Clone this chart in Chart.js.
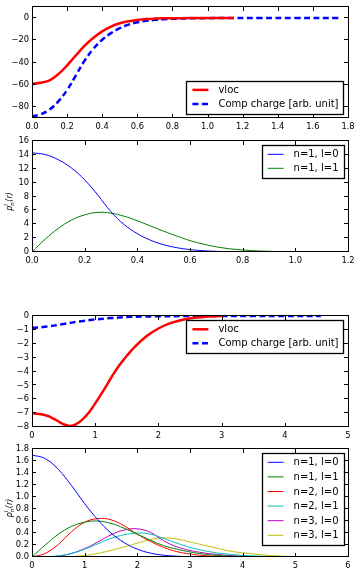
<!DOCTYPE html>
<html>
<head>
<meta charset="utf-8">
<script src="https://cdn.jsdelivr.net/npm/chart.js@4"></script>
<style>
  html, body { margin: 0; padding: 0; background: #fff; overflow: hidden; }
  body { width: 355px; height: 571px; position: relative; }
  canvas { position: absolute; left: 0; }
</style>
</head>
<body>
<canvas id="c1" width="355" height="132" style="top:0px"></canvas>
<canvas id="c2" width="355" height="133" style="top:133px"></canvas>
<canvas id="c3" width="355" height="136" style="top:305px"></canvas>
<canvas id="c4" width="355" height="129" style="top:442px"></canvas>
<script>
// panel 1: vloc and compensation charge (small r)
const r1Vloc = [0, 0.05, 0.1, 0.15, 0.2, 0.25, 0.3, 0.35, 0.4, 0.45, 0.5, 0.55, 0.6, 0.65, 0.7, 0.75, 0.8, 0.9, 1.0, 1.15];
const vloc1 = [-59.1, -58.3, -56.0, -50.5, -42.6, -33.6, -24.9, -17.7, -12.0, -7.7, -4.7, -2.8, -1.6, -0.85, -0.45, -0.22, -0.1, -0.02, 0, 0];
const r1Comp = [0, 0.05, 0.1, 0.15, 0.2, 0.25, 0.3, 0.35, 0.4, 0.45, 0.5, 0.55, 0.6, 0.65, 0.7, 0.8, 0.9, 1.0, 1.1, 1.3, 1.5, 1.75];
const comp1 = [-88.7, -86.6, -82.4, -75.0, -64.8, -51.5, -38.2, -27.6, -19.5, -13.5, -9.1, -5.9, -3.8, -2.5, -1.6, -0.65, -0.22, -0.06, 0, 0, 0, 0];
const x1Ticks = [0, 0.2, 0.4, 0.6, 0.8, 1.0, 1.2, 1.4, 1.6, 1.8];
const y1Ticks = [-80, -60, -40, -20, 0];

// panel 2: projectors
const r2 = [0, 0.05, 0.1, 0.15, 0.2, 0.25, 0.3, 0.35, 0.4, 0.45, 0.5, 0.55, 0.6, 0.65, 0.7, 0.75, 0.8, 0.85, 0.9, 0.95, 1.0, 1.1, 1.2];
const p2n1l0 = [14.3, 14.05, 13.3, 12.1, 10.4, 8.2, 5.8, 3.95, 2.65, 1.7, 1.05, 0.62, 0.35, 0.19, 0.1, 0.05, 0.025, 0.01, 0.005, 0.002, 0, 0, 0];
const p2n1l1 = [0, 1.85, 3.4, 4.6, 5.35, 5.72, 5.6, 5.15, 4.5, 3.75, 3.0, 2.3, 1.65, 1.15, 0.75, 0.47, 0.3, 0.17, 0.1, 0.05, 0.025, 0.005, 0];
const x2Ticks = [0, 0.2, 0.4, 0.6, 0.8, 1.0, 1.2];
const y2Ticks = [0, 2, 4, 6, 8, 10, 12, 14, 16];

// panel 3: vloc and compensation charge (larger r)
const r3Vloc = [0, 0.2, 0.3, 0.4, 0.5, 0.6, 0.7, 0.8, 0.9, 1.0, 1.1, 1.2, 1.3, 1.4, 1.5, 1.6, 1.8, 2.0, 2.2, 2.4, 2.6, 2.8, 3.0];
const vloc3 = [-7.0, -7.13, -7.3, -7.55, -7.8, -7.92, -7.8, -7.45, -6.95, -6.3, -5.6, -4.85, -4.1, -3.45, -2.87, -2.35, -1.5, -0.9, -0.5, -0.25, -0.11, -0.04, 0];
const r3Comp = [0, 0.25, 0.5, 0.75, 1.0, 1.25, 1.5, 1.75, 2.0, 2.5, 3.0, 3.5, 4.0, 4.57];
const comp3 = [-0.85, -0.76, -0.57, -0.39, -0.25, -0.15, -0.08, -0.04, -0.02, -0.005, 0, 0, 0, 0];
const x3Ticks = [0, 1, 2, 3, 4, 5];
const y3Ticks = [-8, -7, -6, -5, -4, -3, -2, -1, 0];

// panel 4: projectors
const r4 = [0, 0.25, 0.5, 0.75, 1, 1.25, 1.5, 1.75, 2, 2.25, 2.5, 2.75, 3, 3.25, 3.5, 3.75, 4, 4.5, 5, 5.5, 6];
const p4n1l0 = [1.70, 1.64, 1.46, 1.19, 0.89, 0.62, 0.40, 0.24, 0.13, 0.065, 0.03, 0.013, 0.005, 0.002, 0.001, 0, 0, 0, 0, 0, 0];
const p4n1l1 = [0, 0.20, 0.38, 0.51, 0.58, 0.60, 0.56, 0.48, 0.38, 0.28, 0.19, 0.13, 0.085, 0.05, 0.028, 0.015, 0.008, 0.002, 0, 0, 0];
const p4n2l0 = [0, 0.06, 0.21, 0.42, 0.58, 0.64, 0.62, 0.52, 0.38, 0.26, 0.16, 0.09, 0.05, 0.025, 0.012, 0.005, 0.002, 0, 0, 0, 0];
const p4n2l1 = [0, 0.002, 0.02, 0.06, 0.13, 0.22, 0.31, 0.37, 0.40, 0.38, 0.31, 0.23, 0.16, 0.11, 0.07, 0.045, 0.027, 0.009, 0.002, 0, 0];
const p4n3l0 = [0, 0.001, 0.015, 0.06, 0.14, 0.25, 0.37, 0.45, 0.47, 0.41, 0.27, 0.17, 0.11, 0.07, 0.043, 0.025, 0.013, 0.003, 0, 0, 0];
const p4n3l1 = [0, 0, 0.002, 0.008, 0.025, 0.06, 0.11, 0.17, 0.23, 0.29, 0.32, 0.30, 0.25, 0.20, 0.15, 0.10, 0.07, 0.027, 0.008, 0.002, 0];
const x4Ticks = [0, 1, 2, 3, 4, 5, 6];
const y4Ticks = [0, 0.2, 0.4, 0.6, 0.8, 1.0, 1.2, 1.4, 1.6, 1.8];

const FONT = 'DejaVu Sans';
Chart.defaults.font.family = FONT;
Chart.defaults.font.size = 8.3;
Chart.defaults.color = '#000';

const pts = (xs, ys) => xs.map((x, i) => ({ x: x, y: ys[i] }));
const fmt = (v, d) => v.toFixed(d).replace('-', '\u2212');

// matplotlib-like box, inward ticks, y label and legend
const axesBox = {
  id: 'axesBox',
  afterDatasetsDraw(chart) {
    const ctx = chart.ctx;
    const a = chart.chartArea;
    const xs = chart.scales.x, ys = chart.scales.y;
    const opt = chart.options.plugins.axesBox;
    ctx.save();
    ctx.strokeStyle = '#000';
    ctx.lineWidth = 1;
    ctx.beginPath();
    xs.ticks.forEach(t => {
      const px = Math.round(xs.getPixelForValue(t.value)) + 0.5;
      ctx.moveTo(px, a.bottom); ctx.lineTo(px, a.bottom - 4);
      ctx.moveTo(px, a.top); ctx.lineTo(px, a.top + 4);
    });
    ys.ticks.forEach(t => {
      const py = Math.round(ys.getPixelForValue(t.value)) - 0.5;
      ctx.moveTo(a.left, py); ctx.lineTo(a.left + 4, py);
      ctx.moveTo(a.right, py); ctx.lineTo(a.right - 4, py);
    });
    ctx.stroke();
    ctx.strokeRect(a.left + 0.5, a.top - 0.5, a.right - a.left, a.bottom - a.top);

    // y label p_n^l(r)
    if (opt.yLabel) {
      const [base, sub, sup, tail] = opt.yLabel;
      ctx.save();
      ctx.translate(9, (a.top + a.bottom) / 2 + 5);
      ctx.rotate(-Math.PI / 2);
      ctx.fillStyle = '#000';
      ctx.textBaseline = 'alphabetic';
      ctx.textAlign = 'left';
      const big = 'italic 8px ' + FONT, small = 'italic 5.5px ' + FONT;
      ctx.font = big;
      const wb = ctx.measureText(base).width, wt = ctx.measureText(tail).width;
      ctx.font = small;
      const ws = Math.max(ctx.measureText(sub).width, ctx.measureText(sup).width);
      let x = -(wb + ws + 0.5 + wt) / 2;
      ctx.font = big; ctx.fillText(base, x, 2.5); x += wb;
      ctx.font = small; ctx.fillText(sub, x, 4.5); ctx.fillText(sup, x, -1.5); x += ws + 0.5;
      ctx.font = big; ctx.fillText(tail, x, 2.5);
      ctx.restore();
    }

    // legend box
    const sets = chart.data.datasets;
    ctx.font = '10px ' + FONT;
    let tw = 0;
    sets.forEach(d => { tw = Math.max(tw, ctx.measureText(d.label).width); });
    const w = 6 + 16 + 10 + tw + 5;
    const h = 9.3 + (sets.length - 1) * opt.gap + 9.6;
    const right = a.right - 4.5;
    const left = right - w;
    const top = opt.corner === 'upper' ? a.top + 4 : a.bottom - 4.5 - h;
    ctx.fillStyle = '#fff';
    ctx.fillRect(left, top, w, h);
    ctx.lineWidth = 1.3;
    ctx.strokeStyle = '#000';
    ctx.strokeRect(Math.round(left) + 0.5, Math.round(top) + 0.5, Math.round(w), Math.round(h));
    ctx.textBaseline = 'middle';
    ctx.textAlign = 'left';
    sets.forEach((d, i) => {
      const y = top + 9.3 + i * opt.gap;
      ctx.beginPath();
      ctx.strokeStyle = d.borderColor;
      ctx.lineWidth = d.borderWidth;
      ctx.setLineDash(d.borderDash || []);
      ctx.moveTo(left + 6, y); ctx.lineTo(left + 22, y);
      ctx.stroke();
      ctx.setLineDash([]);
      ctx.fillStyle = '#000';
      ctx.fillText(d.label, left + 32, y + 0.5);
    });
    ctx.restore();
  }
};

function makePanel(id, padTop, sets, xr, yr, corner, gap, yLabel) {
  new Chart(document.getElementById(id), {
    type: 'line',
    data: { datasets: sets },
    plugins: [axesBox],
    options: {
      responsive: false,
      animation: false,
      devicePixelRatio: 1,
      layout: { padding: { top: padTop, right: 7, left: 0, bottom: 0 } },
      elements: { point: { radius: 0 }, line: { tension: 0.4, fill: false } },
      plugins: {
        legend: { display: false },
        tooltip: { enabled: false },
        axesBox: { corner: corner, gap: gap, yLabel: yLabel }
      },
      scales: {
        x: {
          type: 'linear', min: xr.min, max: xr.max,
          grid: { display: false, drawTicks: false }, border: { display: false },
          afterBuildTicks: s => { s.ticks = xr.ticks.map(v => ({ value: v })); },
          afterFit: s => { s.height = 14; s.paddingLeft = 0; s.paddingRight = 0; },
          ticks: { padding: 4, maxRotation: 0, autoSkip: false, callback: v => fmt(v, xr.dec) }
        },
        y: {
          type: 'linear', min: yr.min, max: yr.max,
          grid: { display: false, drawTicks: false }, border: { display: false },
          afterBuildTicks: s => { s.ticks = yr.ticks.map(v => ({ value: v })); },
          afterFit: s => { s.width = 32; s.paddingTop = 0; s.paddingBottom = 0; },
          ticks: { padding: 3, autoSkip: false, callback: v => fmt(v, yr.dec) }
        }
      }
    }
  });
}

const line = (label, xs, ys, color, width, dash) => ({
  label: label, data: pts(xs, ys), borderColor: color, borderWidth: width,
  borderDash: dash || [], pointRadius: 0
});

const projLabel = ['p', 'n', 'l', '(r)'];

makePanel('c1', 7, [
  line('vloc', r1Vloc, vloc1, '#ff0000', 2.5),
  line('Comp charge [arb. unit]', r1Comp, comp1, '#0000ff', 2.5, [6, 3.5])
], { min: 0, max: 1.8, ticks: x1Ticks, dec: 1 }, { min: -90, max: 10, ticks: y1Ticks, dec: 0 }, 'lower', 14);

makePanel('c2', 8, [
  line('n=1, l=0', r2, p2n1l0, '#0000ff', 1),
  line('n=1, l=1', r2, p2n1l1, '#008000', 1)
], { min: 0, max: 1.2, ticks: x2Ticks, dec: 1 }, { min: 0, max: 16, ticks: y2Ticks, dec: 0 }, 'upper', 14, projLabel);

makePanel('c3', 11, [
  line('vloc', r3Vloc, vloc3, '#ff0000', 2.5),
  line('Comp charge [arb. unit]', r3Comp, comp3, '#0000ff', 2.5, [6, 3.5])
], { min: 0, max: 5, ticks: x3Ticks, dec: 0 }, { min: -8, max: 0, ticks: y3Ticks, dec: 0 }, 'upper', 14);

makePanel('c4', 7, [
  line('n=1, l=0', r4, p4n1l0, '#0000ff', 1),
  line('n=1, l=1', r4, p4n1l1, '#008000', 1),
  line('n=2, l=0', r4, p4n2l0, '#ff0000', 1),
  line('n=2, l=1', r4, p4n2l1, '#00bfbf', 1),
  line('n=3, l=0', r4, p4n3l0, '#bf00bf', 1),
  line('n=3, l=1', r4, p4n3l1, '#bfbf00', 1)
], { min: 0, max: 6, ticks: x4Ticks, dec: 0 }, { min: 0, max: 1.8, ticks: y4Ticks, dec: 1 }, 'upper', 14.6, projLabel);
</script>
</body>
</html>
